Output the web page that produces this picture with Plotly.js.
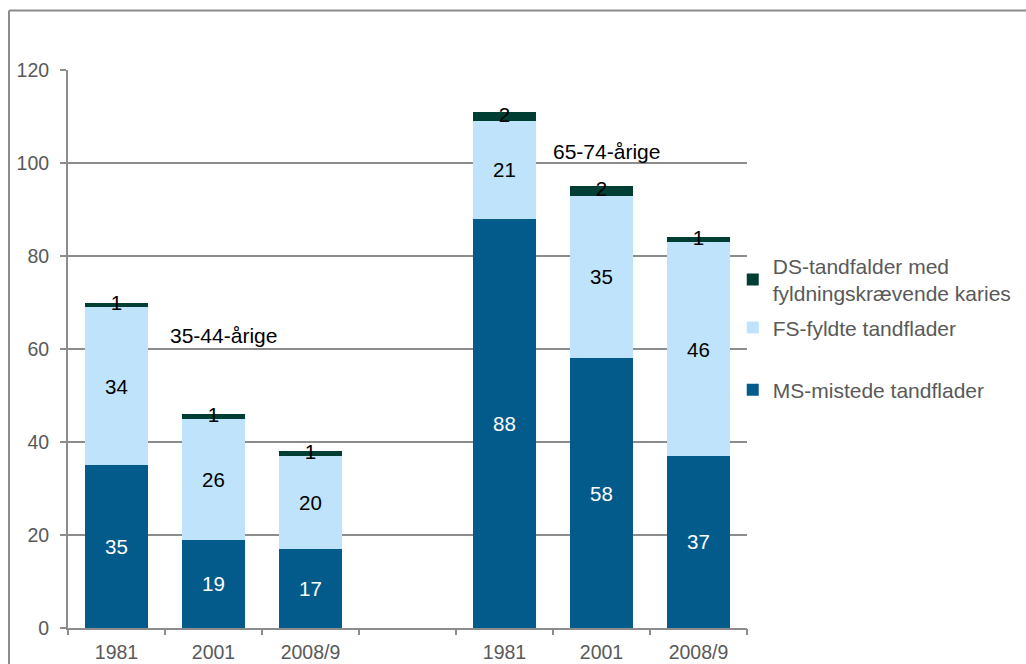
<!DOCTYPE html>
<html>
<head>
<meta charset="utf-8">
<script src="https://cdn.plot.ly/plotly-3.0.1.min.js"></script>
<style>
  html, body { margin: 0; padding: 0; background: #fff; }
  #chart { width: 1026px; height: 664px; }
</style>
</head>
<body>
<div id="chart"></div>
<script>
// Slot positions on the x axis; slot 3 is an empty spacer between the age groups
const slots = [0, 1, 2, 3, 4, 5, 6];
const yearLabels = ['1981', '2001', '2008/9', '', '1981', '2001', '2008/9'];

// Tooth surfaces per person, by component
const msValues = [35, 19, 17, null, 88, 58, 37];   // MS-mistede tandflader
const fsValues = [34, 26, 20, null, 21, 35, 46];   // FS-fyldte tandflader
const dsValues = [1, 1, 1, null, 2, 2, 1];         // DS-tandfalder

const seriesNames = [
  'MS-mistede tandflader',
  'FS-fyldte tandflader',
  'DS-tandfalder med<br>fyldningskrævende karies'
];

const groupNames = ['35-44-årige', '65-74-årige'];

const colMS = '#035b8c';
const colFS = '#bee3fb';
const colDS = '#003d33';
const txtGray = '#595959';
const lineGray = '#8c8c8c';

const fontFamily = 'Liberation Sans, Arial, sans-serif';
const labelFont = { family: fontFamily, size: 20.5 };

function bar(vals, name, color, textColor) {
  return {
    type: 'bar', x: slots, y: vals, name: name,
    marker: { color: color, line: { width: 0 } },
    text: vals.map(v => v == null ? '' : String(v)),
    textposition: 'inside', insidetextanchor: 'middle',
    textfont: Object.assign({ color: textColor }, labelFont),
    hoverinfo: 'skip'
  };
}

const msTrace = bar(msValues, seriesNames[0], colMS, '#ffffff');
msTrace.legend = 'legend2';
const fsTrace = bar(fsValues, seriesNames[1], colFS, '#000000');
fsTrace.legendrank = 2;
fsTrace.legendgroup = 'fs';
const dsTrace = bar(dsValues, seriesNames[2], colDS, '#000000');
dsTrace.legendrank = 1;
dsTrace.legendgroup = 'ds';
dsTrace.text = dsValues.map(() => '');

// DS labels sit on the thin top segment, centred on it
const dsLabelY = slots.map((s, i) =>
  dsValues[i] == null ? null : msValues[i] + fsValues[i] + dsValues[i] / 2);
const dsLabels = {
  type: 'scatter', mode: 'text', x: slots, y: dsLabelY,
  text: dsValues.map(v => v == null ? '' : String(v)),
  textposition: 'middle center',
  textfont: Object.assign({ color: '#000000' }, labelFont),
  showlegend: false, hoverinfo: 'skip'
};

// Bottom axis: labels at slot centres, tick marks on slot boundaries
const boundaries = [-0.5, 0.5, 1.5, 2.5, 3.5, 4.5, 5.5, 6.5];
const tickHolder = {
  type: 'scatter', x: [0], y: [0], xaxis: 'x2', mode: 'markers',
  marker: { opacity: 0 }, showlegend: false, hoverinfo: 'skip'
};

const legendFont = { family: fontFamily, size: 21, color: txtGray };

const layout = {
  width: 1026, height: 664,
  margin: { l: 68, r: 279, t: 70, b: 36, autoexpand: false },
  paper_bgcolor: '#ffffff', plot_bgcolor: '#ffffff',
  barmode: 'stack', bargap: 0.36,
  font: { family: fontFamily, color: txtGray, size: 19.5 },
  xaxis: {
    range: [-0.5, 6.5], tickvals: slots, ticktext: yearLabels,
    ticks: '', ticklabelstandoff: 6, showgrid: false, zeroline: false,
    showline: true, linecolor: lineGray, linewidth: 2,
    tickfont: { size: 19.5, color: txtGray }, fixedrange: true
  },
  xaxis2: {
    overlaying: 'x', side: 'bottom', range: [-0.5, 6.5],
    tickvals: boundaries, showticklabels: false,
    ticks: 'outside', ticklen: 6, tickwidth: 2, tickcolor: lineGray,
    showgrid: false, zeroline: false, showline: false, fixedrange: true
  },
  yaxis: {
    range: [0, 120], tickvals: [0, 20, 40, 60, 80, 100, 120],
    showgrid: true, gridcolor: lineGray, gridwidth: 2,
    showline: true, linecolor: lineGray, linewidth: 2,
    ticks: 'outside', ticklen: 6, tickwidth: 2, tickcolor: lineGray,
    ticklabelstandoff: 7,
    zeroline: false, tickfont: { size: 19.5, color: txtGray }, fixedrange: true
  },
  legend: {
    x: 0.979, xanchor: 'left', y: 0.685, yanchor: 'top',
    traceorder: 'grouped', tracegroupgap: 4, font: legendFont, itemwidth: 30,
    bgcolor: 'rgba(0,0,0,0)'
  },
  legend2: {
    x: 0.979, xanchor: 'left', y: 0.4265, yanchor: 'middle',
    font: legendFont, itemwidth: 30, bgcolor: 'rgba(0,0,0,0)'
  },
  annotations: [
    { x: 1.1, y: 63, xref: 'x', yref: 'y', text: groupNames[0], showarrow: false,
      font: { size: 21, color: '#000000' } },
    { x: 5.05, y: 102.4, xref: 'x', yref: 'y', text: groupNames[1], showarrow: false,
      font: { size: 21, color: '#000000' } }
  ],
  shapes: [
    // outer chart frame: left and top edges
    { type: 'line', xref: 'paper', yref: 'paper', x0: -0.0869, x1: -0.0869, y0: -0.2, y1: 1.1066,
      line: { color: lineGray, width: 2 } },
    { type: 'line', xref: 'paper', yref: 'paper', x0: -0.0869, x1: 1.42, y0: 1.1066, y1: 1.1066,
      line: { color: lineGray, width: 2 } }
  ]
};

Plotly.newPlot('chart', [msTrace, fsTrace, dsTrace, dsLabels, tickHolder], layout,
  { displayModeBar: false, staticPlot: true });
</script>
</body>
</html>
